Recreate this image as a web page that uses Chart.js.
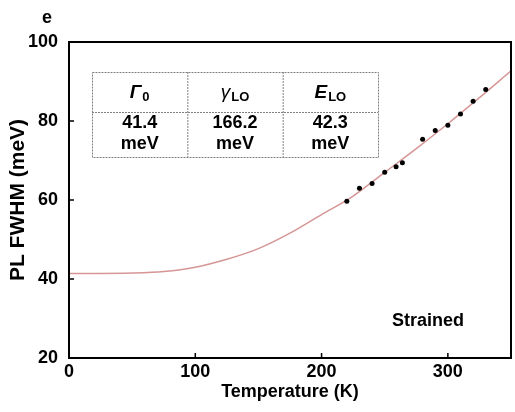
<!DOCTYPE html>
<html>
<head>
<meta charset="utf-8">
<script src="https://cdn.jsdelivr.net/npm/chart.js@4"></script>
<style>
  html, body { margin: 0; padding: 0; background: #fff; }
  #wrap { width: 515px; height: 412px; }
</style>
</head>
<body>
<div id="wrap"><canvas id="fwhmChart" width="515" height="412"></canvas></div>
<script>
// measured points
var tempK = [220, 230, 240, 250, 259, 264, 280, 290, 300, 310, 320, 330];
var fwhmMeV = [59.7, 63.0, 64.2, 67.0, 68.4, 69.4, 75.4, 77.6, 78.9, 81.8, 85.0, 88.0];

// fitted curve
var fitT = [0, 25, 50, 75, 100, 125, 150, 175, 200, 225, 250, 275, 300, 325, 350];
var fitFWHM = [41.4, 41.4, 41.5, 41.9, 43.0, 45.0, 47.7, 51.6, 56.3, 61.0, 67.0, 73.0, 79.3, 85.9, 92.7];

var xTicks = [0, 100, 200, 300];
var yTicks = [20, 40, 60, 80, 100];

// fit parameters table
var paramNames = [['\u0393', '0'], ['\u03B3', 'LO'], ['E', 'LO']];
var paramValues = ['41.4', '166.2', '42.3'];
var paramUnit = 'meV';

var FONT = '"Liberation Sans", Arial, sans-serif';

var decorPlugin = {
    id: 'decor',
    afterDraw: function (chart) {
        var ctx = chart.ctx;
        var a = chart.chartArea;
        var xs = chart.scales.x, ys = chart.scales.y;
        ctx.save();

        // frame
        ctx.strokeStyle = '#000';
        ctx.lineWidth = 2;
        ctx.strokeRect(a.left, a.top, a.right - a.left, a.bottom - a.top);

        // inward tick marks
        ctx.lineWidth = 1.5;
        ctx.beginPath();
        xTicks.forEach(function (v) {
            var px = xs.getPixelForValue(v);
            ctx.moveTo(px, a.bottom);
            ctx.lineTo(px, a.bottom - 5);
        });
        yTicks.forEach(function (v) {
            var py = ys.getPixelForValue(v);
            ctx.moveTo(a.left, py);
            ctx.lineTo(a.left + 5, py);
        });
        ctx.stroke();

        // panel letter
        ctx.fillStyle = '#000';
        ctx.font = 'bold 18px ' + FONT;
        ctx.textAlign = 'left';
        ctx.textBaseline = 'alphabetic';
        ctx.fillText('e', 42, 23);

        // sample label
        ctx.fillText('Strained', 392, 326);

        // table
        var tx = 92, tw = 286, ty = 72, th1 = 40, th2 = 45;
        var colW = tw / 3;
        ctx.strokeStyle = '#808080';
        ctx.lineWidth = 1;
        ctx.setLineDash([2, 1]);
        ctx.strokeRect(tx + 0.5, ty + 0.5, tw, th1 + th2);
        ctx.beginPath();
        ctx.moveTo(tx, ty + th1 + 0.5);
        ctx.lineTo(tx + tw, ty + th1 + 0.5);
        for (var i = 1; i < 3; i++) {
            ctx.moveTo(tx + colW * i + 0.5, ty);
            ctx.lineTo(tx + colW * i + 0.5, ty + th1 + th2);
        }
        ctx.stroke();
        ctx.setLineDash([]);

        for (var c = 0; c < 3; c++) {
            var cx = tx + colW * c + colW / 2;
            var mainFont = (c === 1 ? 'italic 19px ' : 'italic bold 19px ') + FONT;
            var subFont = 'bold 13px ' + FONT;
            ctx.font = mainFont;
            var w1 = ctx.measureText(paramNames[c][0]).width;
            ctx.font = subFont;
            var w2 = ctx.measureText(paramNames[c][1]).width;
            var sx = cx - (w1 + w2 + 1) / 2;
            ctx.textAlign = 'left';
            ctx.textBaseline = 'alphabetic';
            ctx.font = mainFont;
            ctx.fillText(paramNames[c][0], sx, 98);
            ctx.font = subFont;
            ctx.fillText(paramNames[c][1], sx + w1 + 1, 101);

            ctx.font = 'bold 18px ' + FONT;
            ctx.textAlign = 'center';
            ctx.textBaseline = 'middle';
            ctx.fillText(paramValues[c], cx, 123);
            ctx.fillText(paramUnit, cx, 144);
        }
        ctx.restore();
    }
};

var fwhmCtx = document.getElementById('fwhmChart').getContext('2d');
new Chart(fwhmCtx, {
    type: 'scatter',
    data: {
        datasets: [
            {
                label: 'Fit',
                data: fitT.map(function (t, i) { return { x: t, y: fitFWHM[i] }; }),
                showLine: true,
                borderColor: 'rgb(214, 150, 150)',
                borderWidth: 1.5,
                pointRadius: 0,
                cubicInterpolationMode: 'monotone',
                order: 2
            },
            {
                label: 'Strained',
                data: tempK.map(function (t, i) { return { x: t, y: fwhmMeV[i] }; }),
                backgroundColor: '#000',
                borderColor: '#000',
                pointRadius: 2.5,
                borderWidth: 0,
                order: 1
            }
        ]
    },
    options: {
        responsive: false,
        animation: false,
        layout: { padding: { top: 42, right: 2, left: 0, bottom: 0 } },
        plugins: {
            legend: { display: false },
            tooltip: { enabled: false }
        },
        scales: {
            x: {
                type: 'linear',
                min: 0,
                max: 350,
                grid: { display: false, drawTicks: false },
                border: { display: false },
                afterBuildTicks: function (s) { s.ticks = xTicks.map(function (v) { return { value: v }; }); },
                afterFit: function (s) { s.height = 54; },
                ticks: {
                    color: '#000',
                    padding: 3,
                    maxRotation: 0,
                    font: { family: FONT, size: 18, weight: 'bold' }
                },
                title: {
                    display: true,
                    text: 'Temperature (K)',
                    color: '#000',
                    padding: { top: 0, bottom: 9 },
                    font: { family: FONT, size: 18, weight: 'bold' }
                }
            },
            y: {
                min: 20,
                max: 100,
                grid: { display: false, drawTicks: false },
                border: { display: false },
                afterBuildTicks: function (s) { s.ticks = yTicks.map(function (v) { return { value: v }; }); },
                afterFit: function (s) { s.width = 69; },
                ticks: {
                    color: '#000',
                    padding: 11,
                    font: { family: FONT, size: 18, weight: 'bold' }
                },
                title: {
                    display: true,
                    text: 'PL FWHM (meV)',
                    color: '#000',
                    padding: { top: 6, bottom: 0 },
                    font: { family: FONT, size: 21, weight: 'bold' }
                }
            }
        }
    },
    plugins: [decorPlugin]
});
</script>
</body>
</html>
